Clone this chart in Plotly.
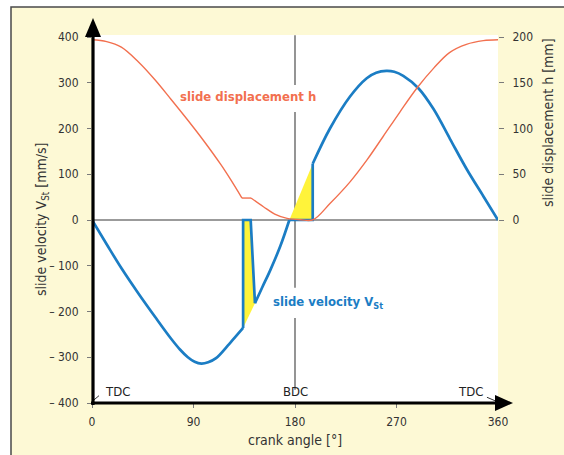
import plotly.graph_objects as go

# ---------------- data ----------------
# slide velocity V_St [mm/s] over crank angle [deg], in pieces
vel_angle_a = [0, 13, 26, 41, 56, 70, 78, 85, 91, 97, 103, 110, 122, 134]
vel_a = [0, -53, -105, -160, -212, -259, -283, -300, -310, -314, -311, -302, -270, -236]

notch_angle = [134, 134, 140.7, 144.5]
notch_vel = [-236, 0, 0, -182]

vel_angle_b = [144.5, 151, 158, 167, 175]
vel_b = [-182, -147, -110, -57, 0]

dwell_angle = [175, 195.7, 195.7]
dwell_vel = [0, 0, 123]

vel_angle_c = [195.7, 211, 228.8, 243.6, 252, 261, 268, 276, 289.4, 302.7, 317.5, 332.3, 347, 360]
vel_c = [123, 200, 270, 310, 322, 326, 324, 315, 288, 243, 177, 111, 52, 0]

# underlying velocity curve hidden behind the two shaded areas
fill1_angle = [134, 140.7, 144.5, 139, 134]
fill1_vel = [0, 0, -182, -210, -236]
fill2_angle = [175, 185, 195.7, 195.7]
fill2_vel = [0, 59, 123, 0]

# slide displacement h [mm]
disp_angle_a = [0, 13, 26, 41, 56, 70, 85, 100, 114, 122, 133]
disp_a = [197, 195, 189, 173, 153, 132, 109, 85, 61, 46, 24]
plateau_angle = [133, 141]
plateau_disp = [24, 24]
disp_angle_b = [141, 152, 162, 173, 185, 196, 211, 229, 244, 258, 273, 288, 303, 317, 332, 347, 360]
disp_b = [24, 14.5, 6.5, 1.8, 0.3, 0.3, 18, 42, 66, 91, 118, 144, 166, 183, 192, 196, 197]

x_ticks = [0, 90, 180, 270, 360]
v_ticks = [-400, -300, -200, -100, 0, 100, 200, 300, 400]
v_tick_text = ["\u2013 400", "\u2013 300", "\u2013 200", "\u2013 100", "0", "100", "200", "300", "400"]
h_ticks = [0, 50, 100, 150, 200]

# ---------------- style ----------------
W, H = 564, 455
ML, MR, MT, MB = 92, 66, 35, 52
FONT = "DejaVu Sans Condensed, Liberation Sans Narrow, Arial Narrow, sans-serif"
RED = "#f2704f"
BLUE = "#1b7dc4"
YELLOW = "#fff33a"
GRAY = "#7a7a7a"
TEXT = "#333333"
PAPER = "#fdf9d5"

PW = W - ML - MR
PH = H - MT - MB


def px(x):
    return (x - ML) / PW


def py(y):
    return (H - MB - y) / PH


fig = go.Figure()

# shaded areas
for xs, ys in [(fill1_angle, fill1_vel), (fill2_angle, fill2_vel)]:
    fig.add_trace(go.Scatter(x=xs, y=ys, fill="toself", fillcolor=YELLOW,
                             mode="lines", line=dict(width=0), hoverinfo="skip"))

# displacement curve (right axis)
for xs, ys, shape in [(disp_angle_a, disp_a, "spline"),
                      (plateau_angle, plateau_disp, "linear"),
                      (disp_angle_b, disp_b, "spline")]:
    fig.add_trace(go.Scatter(x=xs, y=ys, yaxis="y2", mode="lines",
                             line=dict(color=RED, width=1.4, shape=shape, smoothing=1)))

# velocity curve (left axis)
for xs, ys, shape in [(vel_angle_a, vel_a, "spline"),
                      (notch_angle, notch_vel, "linear"),
                      (vel_angle_b, vel_b, "spline"),
                      (dwell_angle, dwell_vel, "linear"),
                      (vel_angle_c, vel_c, "spline")]:
    fig.add_trace(go.Scatter(x=xs, y=ys, mode="lines",
                             line=dict(color=BLUE, width=2.7, shape=shape, smoothing=1)))

shapes = []
# zero line and BDC line (broken around labels)
shapes.append(dict(type="line", xref="x", yref="y", x0=0, x1=360, y0=0, y1=0,
                   line=dict(color=GRAY, width=1.6), layer="below"))
for y0, y1 in [(404, 295), (236, -148), (-214, -371)]:
    shapes.append(dict(type="line", xref="x", yref="y", x0=180, x1=180, y0=y0, y1=y1,
                       line=dict(color=GRAY, width=1.6), layer="below"))

# leader lines of TDC labels
shapes.append(dict(type="line", xref="x", yref="y", x0=0.9, y0=-395, x1=6.2, y1=-384,
                   line=dict(color="#333", width=1)))
shapes.append(dict(type="line", xref="x", yref="y", x0=350.2, y0=-387.5, x1=357.3, y1=-395,
                   line=dict(color="#333", width=1)))

# black axis arrows
shapes.append(dict(type="line", xref="paper", yref="paper", x0=px(93), x1=px(93),
                   y0=py(405), y1=py(34), line=dict(color="black", width=3.2)))
shapes.append(dict(type="path", xref="paper", yref="paper",
                   path=f"M{px(85)},{py(37)} L{px(93)},{py(18)} L{px(101)},{py(37)} Z",
                   fillcolor="black", line=dict(width=0)))
shapes.append(dict(type="line", xref="paper", yref="paper", x0=px(91), x1=px(497),
                   y0=py(403), y1=py(403), line=dict(color="black", width=3.2)))
shapes.append(dict(type="path", xref="paper", yref="paper",
                   path=f"M{px(495)},{py(395)} L{px(513)},{py(403)} L{px(495)},{py(411)} Z",
                   fillcolor="black", line=dict(width=0)))

# white margin and frame of the panel
shapes.append(dict(type="rect", xref="paper", yref="paper", x0=px(0), x1=px(W),
                   y0=py(7), y1=py(0), fillcolor="white", line=dict(width=0)))
shapes.append(dict(type="rect", xref="paper", yref="paper", x0=px(0), x1=px(11),
                   y0=py(H), y1=py(0), fillcolor="white", line=dict(width=0)))
shapes.append(dict(type="path", xref="paper", yref="paper",
                   path=f"M{px(11)},{py(H)} L{px(11)},{py(7)} L{px(W)},{py(7)}",
                   line=dict(color="#4a4a4a", width=1.5)))

annotations = [
    dict(x=138.3, y=270.7, xref="x", yref="y", text="<b>slide displacement h</b>",
         showarrow=False, font=dict(family=FONT, size=13, color=RED)),
    dict(x=209, y=-181, xref="x", yref="y", text="<b>slide velocity V<sub>St</sub></b>",
         showarrow=False, font=dict(family=FONT, size=13, color=BLUE)),
    dict(x=9.8, y=-375, xref="x", yref="y", text="TDC", xanchor="left",
         showarrow=False, font=dict(family=FONT, size=13, color="#222")),
    dict(x=180, y=-375, xref="x", yref="y", text="BDC",
         showarrow=False, font=dict(family=FONT, size=13, color="#222")),
    dict(x=348.5, y=-375, xref="x", yref="y", text="TDC", xanchor="right",
         showarrow=False, font=dict(family=FONT, size=13, color="#222")),
    dict(x=px(42), y=py(220), xref="paper", yref="paper", textangle=-90,
         xanchor="center", yanchor="middle",
         text="slide velocity V<sub>St</sub> [mm/s]", showarrow=False,
         font=dict(family=FONT, size=14, color=TEXT)),
    dict(x=px(548), y=py(123), xref="paper", yref="paper", textangle=-90,
         xanchor="center", yanchor="middle",
         text="slide displacement h [mm]", showarrow=False,
         font=dict(family=FONT, size=14, color=TEXT)),
    dict(x=px(295), y=py(440), xref="paper", yref="paper",
         xanchor="center", yanchor="middle",
         text="crank angle [°]", showarrow=False,
         font=dict(family=FONT, size=14, color=TEXT)),
]

tickfont = dict(family=FONT, size=12, color=TEXT)

fig.update_layout(
    width=W, height=H,
    margin=dict(l=ML, r=MR, t=MT, b=MB, pad=0),
    paper_bgcolor=PAPER, plot_bgcolor="white",
    showlegend=False,
    xaxis=dict(range=[0, 360], tickvals=x_ticks, ticks="outside", ticklen=4,
               tickcolor=GRAY, tickwidth=1, showgrid=False, zeroline=False,
               showline=False, tickfont=tickfont, ticklabelstandoff=4),
    yaxis=dict(range=[-400, 404.4], tickvals=v_ticks, ticktext=v_tick_text,
               ticks="outside", ticklen=4, tickcolor=GRAY, tickwidth=1,
               showgrid=False, zeroline=False, showline=False, tickfont=tickfont,
               ticklabelstandoff=6),
    yaxis2=dict(range=[-200, 202.2], overlaying="y", side="right", tickvals=h_ticks,
                ticks="outside", ticklen=5, tickcolor=GRAY, tickwidth=1,
                showgrid=False, zeroline=False, showline=False, tickfont=tickfont,
                ticklabelstandoff=6),
    shapes=shapes,
    annotations=annotations,
)

fig.write_html("out.html")
